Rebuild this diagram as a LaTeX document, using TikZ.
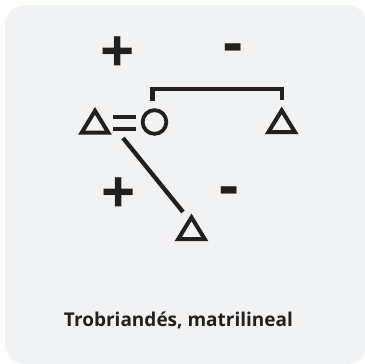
\documentclass[tikz,border=0pt]{standalone}
\usepackage{fontspec}
\setmainfont{Open Sans}
\newfontfamily\signfont{Open Sans}
\usetikzlibrary{calc}
\definecolor{bg}{HTML}{F1F2F4}
\definecolor{ink}{HTML}{231F20}
\begin{document}
\begin{tikzpicture}[x=1pt,y=-1pt,
  anchorpt/.style={inner sep=0pt,outer sep=0pt,minimum size=0pt},
  trifill/.style={fill=ink,even odd rule},
  circ/.style={circle,draw=ink,line width=3.8pt,minimum size=23.7pt,inner sep=0pt,outer sep=0pt},
  link/.style={draw=ink,line width=4.3pt,line join=miter},
  sign/.style={text=ink,font=\signfont\bfseries\fontsize{60}{60}\selectfont,inner sep=0pt,anchor=center},
  caption/.style={text=ink,font=\bfseries\fontsize{19}{24}\selectfont,inner sep=0pt}]
\useasboundingbox (0,0) rectangle (365,364);
\fill[white] (0,0) rectangle (365,364);
\fill[bg,rounded corners=20pt] (5,5) rectangle (367,364);
% kinship symbols (triangle incentres)
\node[anchorpt] (ego) at (95,125.1) {};
\node[circ] (wife) at (154.5,122) {};
\node[anchorpt] (mb) at (281.7,124.6) {};
\node[anchorpt] (son) at (191.5,231.6) {};
\foreach \t in {ego,mb,son}{
  \fill[trifill] ($(\t)+(0,-18.07)$) -- ($(\t)+(-16.8,9.43)$) -- ($(\t)+(16.8,9.43)$) -- cycle
                 ($(\t)+(0,-10.41)$) -- ($(\t)+(-9.68,5.43)$) -- ($(\t)+(9.68,5.43)$) -- cycle;
}
\node[anchorpt] (eq) at (124,123) {};
\fill[ink] (112.5,114.5) rectangle (135.5,119.3);
\fill[ink] (112.5,126.6) rectangle (135.5,131.4);
% connectors
\coordinate (bl) at (152.5,101);
\coordinate (br) at (281.7,100);
\draw[link] (bl) -- (bl |- 0,89) -| (br);
\coordinate (d0) at (123,138);
\coordinate (d1) at (183,212);
\draw[link] (d0) -- (d1);
% signs
\node[sign] (p1) at (117.5,54.7) {+};
\node[sign] (m1) at (233.3,54) {-};
\node[sign] (p2) at (119,195.5) {+};
\node[sign] (m2) at (229.5,196.3) {-};
% caption
\node[caption] (cap) at (178.5,320) {Trobriandés, matrilineal};
\end{tikzpicture}
\end{document}
